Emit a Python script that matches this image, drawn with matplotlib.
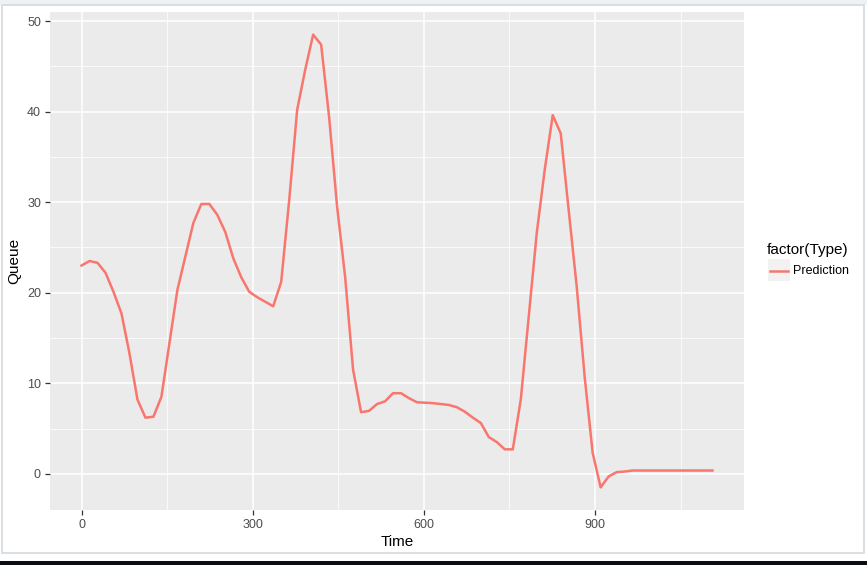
import matplotlib
matplotlib.use("Agg")
import matplotlib.pyplot as plt
from matplotlib.patches import Rectangle
from matplotlib.lines import Line2D

plt.rcParams['font.family'] = ['Liberation Sans', 'DejaVu Sans']

time = [0, 14, 28, 42, 56, 70, 84, 98, 112, 126, 140, 154, 168, 182, 196, 210,
        224, 238, 252, 266, 280, 294, 308, 322, 336, 350, 364, 378, 392, 406,
        420, 434, 448, 462, 476, 490, 504, 518, 532, 546, 560, 574, 588, 602,
        616, 630, 644, 658, 672, 686, 700, 714, 728, 742, 756, 770, 784, 798,
        812, 826, 840, 854, 868, 882, 896, 910, 924, 938, 952, 966, 980, 994,
        1008, 1022, 1036, 1050, 1064, 1078, 1092, 1106]
queue = [23.0, 23.5, 23.3, 22.2, 20.1, 17.7, 13.3, 8.2, 6.2, 6.3, 8.5, 14.4,
         20.3, 24.0, 27.7, 29.8, 29.8, 28.6, 26.7, 23.8, 21.7, 20.1, 19.5, 19.0,
         18.5, 21.2, 30.2, 40.2, 44.6, 48.5, 47.4, 39.4, 29.5, 21.8, 11.5, 6.8,
         6.95, 7.7, 8.0, 8.9, 8.9, 8.35, 7.9, 7.85, 7.8, 7.7, 7.6, 7.35, 6.85,
         6.2, 5.6, 4.05, 3.5, 2.7, 2.7, 8.2, 17.4, 26.6, 33.6, 39.6, 37.6, 29.1,
         20.7, 10.7, 2.3, -1.5, -0.3, 0.18, 0.25, 0.36, 0.36, 0.36, 0.36, 0.36,
         0.36, 0.36, 0.36, 0.36, 0.36, 0.36]
series_name = "Prediction"
legend_title = "factor(Type)"
x_ticks = [0, 300, 600, 900]
y_ticks = [0, 10, 20, 30, 40, 50]

W, H = 867, 565
fig = plt.figure(figsize=(W / 100, H / 100), dpi=100)
fig.patch.set_facecolor('white')

# screenshot frame
fig.patches.append(Rectangle((0, (H - 4.5) / H), 1, 4.5 / H, transform=fig.transFigure,
                             facecolor='#eef2f5', edgecolor='none', zorder=0))
fig.patches.append(Rectangle((0, 0), 1, 4 / H, transform=fig.transFigure,
                             facecolor='#0b0f14', edgecolor='none', zorder=0))
fig.patches.append(Rectangle((1.5 / W, (H - 553) / H), 862 / W, 548.5 / H,
                             transform=fig.transFigure, facecolor='none',
                             edgecolor='#d3d9de', lw=1.2, zorder=0))

ax = fig.add_axes([50 / W, (H - 510) / H, 694 / W, 498 / H])
ax.set_facecolor('#EBEBEB')
for s in ax.spines.values():
    s.set_visible(False)

xmin, xmax = min(time), max(time)
ymin, ymax = min(queue), max(queue)
xr, yr = xmax - xmin, ymax - ymin
ax.set_xlim(xmin - 0.05 * xr, xmax + 0.05 * xr)
ax.set_ylim(ymin - 0.05 * yr, ymax + 0.05 * yr)

ax.set_xticks(x_ticks)
ax.set_yticks(y_ticks)
ax.set_xticks([150, 450, 750, 1050], minor=True)
ax.set_yticks([5, 15, 25, 35, 45], minor=True)
ax.grid(which='major', color='white', lw=1.1)
ax.grid(which='minor', color='white', lw=0.55)
ax.set_axisbelow(True)
ax.tick_params(which='major', length=3.5, width=0.9, color='#333333',
               labelsize=9, labelcolor='#4d4d4d', pad=3)
ax.tick_params(which='minor', length=0)

ax.plot(time, queue, color='#F8766D', lw=1.8, solid_joinstyle='round')

ax.set_xlabel('Time', fontsize=11, color='black', labelpad=3)
ax.set_ylabel('Queue', fontsize=11, color='black', labelpad=4)

# legend
fig.text(767 / W, 1 - 250 / H, legend_title, fontsize=11, ha='left', va='center')
fig.patches.append(Rectangle((768 / W, 1 - 281 / H), 22 / W, 22 / H,
                             transform=fig.transFigure, facecolor='#F2F2F2',
                             edgecolor='none'))
fig.lines.append(Line2D([770 / W, 788 / W], [1 - 270.5 / H, 1 - 270.5 / H],
                        transform=fig.transFigure, color='#F8766D', lw=1.8))
fig.text(793 / W, 1 - 271 / H, series_name, fontsize=9, ha='left', va='center')

fig.savefig('out.png', dpi=100)
